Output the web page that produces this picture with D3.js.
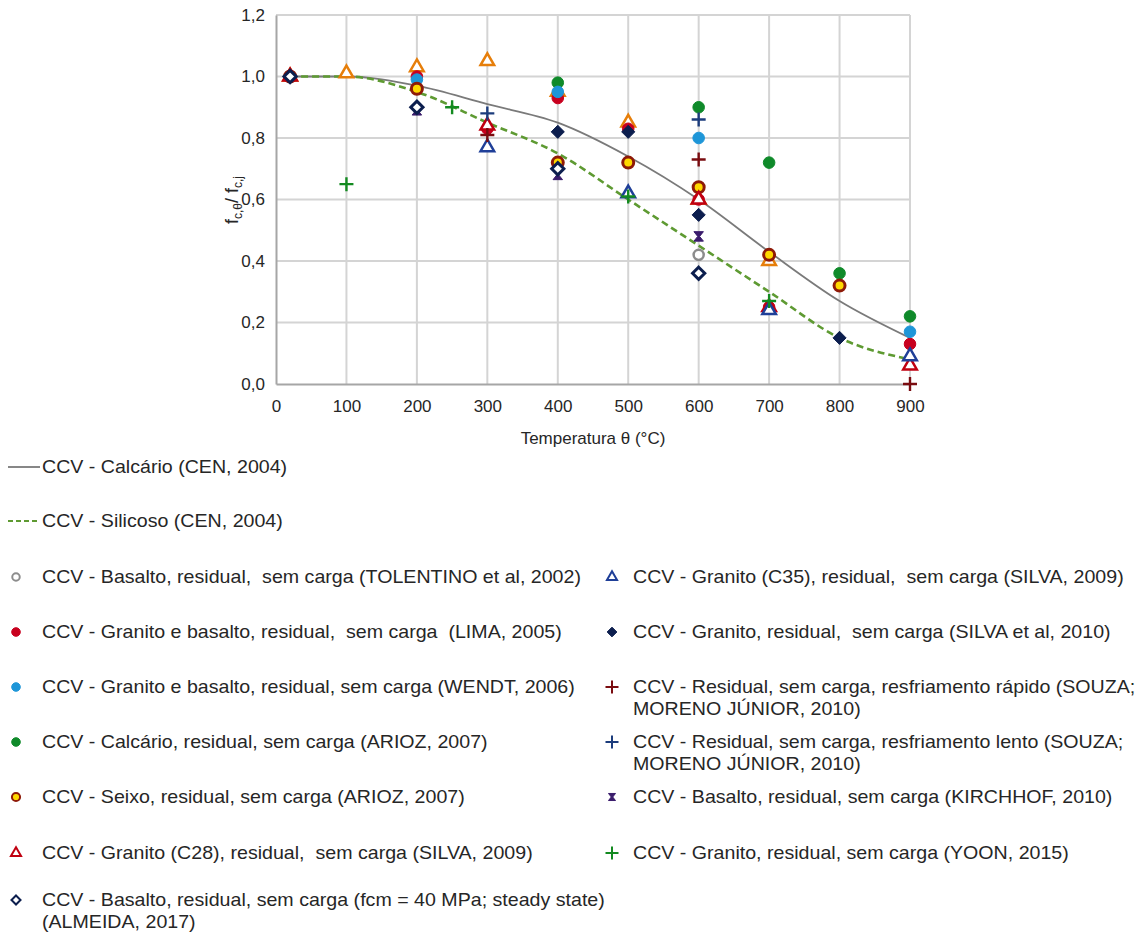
<!DOCTYPE html>
<html>
<head>
<meta charset="utf-8">
<script src="https://cdn.jsdelivr.net/npm/d3@7"></script>
<style>
  body { margin: 0; background: #fff; }
  svg text { font-family: "Liberation Sans", Arial, sans-serif; fill: #262626; white-space: pre; }
</style>
</head>
<body>
<svg id="chart" width="1144" height="936"></svg>
<script>
// EN curves
const curveTemps = [20, 100, 200, 300, 400, 500, 600, 700, 800, 900];
const calcarioVals = [1.0, 1.0, 0.97, 0.91, 0.85, 0.74, 0.60, 0.43, 0.27, 0.15];
const silicosoVals = [1.0, 1.0, 0.95, 0.85, 0.75, 0.60, 0.45, 0.30, 0.15, 0.08];

// scatter series (temperature, fc,theta/fc,j)
const tolentinoT = [20, 600];
const tolentinoV = [1.0, 0.42];
const limaT = [20, 200, 300, 400, 500, 600, 700, 900];
const limaV = [1.0, 1.0, 0.83, 0.93, 0.83, 0.60, 0.25, 0.13];
const wendtT = [20, 200, 400, 600, 900];
const wendtV = [1.0, 0.99, 0.95, 0.80, 0.17];
const ariozCalcT = [400, 600, 700, 800, 900];
const ariozCalcV = [0.98, 0.90, 0.72, 0.36, 0.22];
const orangeTriT = [20, 100, 200, 300, 400, 500, 600, 700];
const orangeTriV = [1.0, 1.01, 1.03, 1.05, 0.95, 0.85, 0.60, 0.40];
const silva28T = [20, 300, 600, 700, 900];
const silva28V = [1.0, 0.84, 0.60, 0.25, 0.06];
const silva35T = [300, 500, 700, 900];
const silva35V = [0.77, 0.62, 0.24, 0.09];
const silva2010T = [400, 500, 600, 800];
const silva2010V = [0.82, 0.82, 0.55, 0.15];
const rapidoT = [300, 600, 900];
const rapidoV = [0.81, 0.73, 0.0];
const lentoT = [300, 600];
const lentoV = [0.88, 0.86];
const kirchhofT = [200, 400, 600];
const kirchhofV = [0.89, 0.68, 0.48];
const yoonT = [100, 250, 500, 700];
const yoonV = [0.65, 0.90, 0.61, 0.27];
const seixoT = [20, 200, 400, 500, 600, 700, 800];
const seixoV = [1.0, 0.96, 0.72, 0.72, 0.64, 0.42, 0.32];
const almeidaT = [20, 200, 400, 600];
const almeidaV = [1.0, 0.90, 0.70, 0.36];

const xTicks = [0, 100, 200, 300, 400, 500, 600, 700, 800, 900];
const yTicks = [0, 0.2, 0.4, 0.6, 0.8, 1.0, 1.2];

const svg = d3.select("#chart");
const x = d3.scaleLinear().domain([0, 900]).range([276, 910]);
const y = d3.scaleLinear().domain([0, 1.2]).range([384, 15]);

// grid
svg.append("g").selectAll("line").data(yTicks.slice(1)).enter().append("line")
  .attr("x1", x(0)).attr("x2", x(900))
  .attr("y1", d => y(d)).attr("y2", d => y(d))
  .attr("stroke", "#d4d4d4").attr("stroke-width", 2);
svg.append("g").selectAll("line").data(xTicks.slice(1)).enter().append("line")
  .attr("x1", d => x(d)).attr("x2", d => x(d))
  .attr("y1", y(0)).attr("y2", y(1.2))
  .attr("stroke", "#d4d4d4").attr("stroke-width", 2);

// axes
const fmt = d => d3.format(".1f")(d).replace(".", ",");
const yAxis = svg.append("g").attr("transform", `translate(${x(0)},0)`)
  .call(d3.axisLeft(y).tickValues(yTicks).tickFormat(fmt).tickSize(0).tickPadding(11));
const xAxis = svg.append("g").attr("transform", `translate(0,${y(0)})`)
  .call(d3.axisBottom(x).tickValues(xTicks).tickSize(0).tickPadding(16));
[xAxis, yAxis].forEach(a => {
  a.select(".domain").attr("stroke", "#a6a6a6").attr("stroke-width", 2);
  a.selectAll("text").attr("font-size", 17).attr("fill", "#262626")
    .style("font-family", "'Liberation Sans', Arial, sans-serif");
});

// axis titles
svg.append("text").attr("x", 593).attr("y", 444).attr("text-anchor", "middle")
  .attr("font-size", 17).text("Temperatura θ (°C)");
const yl = svg.append("text").attr("transform", "translate(238,200) rotate(-90)")
  .attr("text-anchor", "middle").attr("font-size", 18);
yl.append("tspan").text("f");
yl.append("tspan").attr("font-size", 12).attr("dy", 4).text("c,θ");
yl.append("tspan").attr("dy", -4).text("/ f");
yl.append("tspan").attr("font-size", 12).attr("dy", 4).text("c,j");

// curves
const line = d3.line().x(d => x(d[0])).y(d => y(d[1])).curve(d3.curveMonotoneX);
svg.append("path").datum(d3.zip(curveTemps, calcarioVals))
  .attr("fill", "none").attr("stroke", "#7a7a7a").attr("stroke-width", 1.8).attr("d", line);
svg.append("path").datum(d3.zip(curveTemps, silicosoVals))
  .attr("fill", "none").attr("stroke", "#5e9a32").attr("stroke-width", 2.6)
  .attr("stroke-dasharray", "7,4").attr("d", line);

// marker shapes
const hourglass = {
  draw(ctx, size) {
    const r = Math.sqrt(size) / 2;
    ctx.moveTo(-r, -r); ctx.lineTo(r, -r); ctx.lineTo(r * 0.2, 0);
    ctx.lineTo(r, r); ctx.lineTo(-r, r); ctx.lineTo(-r * 0.2, 0); ctx.closePath();
  }
};
const markers = {
  openCircle: { type: d3.symbolCircle, size: 80, fill: "#fff", stroke: "#8c8c8c", sw: 2.5 },
  redDot: { type: d3.symbolCircle, size: 105, fill: "#c8001e", stroke: "#c8001e", sw: 1 },
  blueDot: { type: d3.symbolCircle, size: 105, fill: "#1e96d8", stroke: "#1e96d8", sw: 1 },
  greenDot: { type: d3.symbolCircle, size: 105, fill: "#0f8a2a", stroke: "#0f8a2a", sw: 1 },
  seixo: { type: d3.symbolCircle, size: 95, fill: "#ffd800", stroke: "#8e1a08", sw: 3 },
  orangeTri: { type: d3.symbolTriangle, size: 80, fill: "#fff", stroke: "#e67e0a", sw: 2.5 },
  redTri: { type: d3.symbolTriangle, size: 80, fill: "#fff", stroke: "#c00010", sw: 2.5 },
  navyTri: { type: d3.symbolTriangle, size: 80, fill: "#fff", stroke: "#1f3f98", sw: 2.5 },
  navyDiamond: { type: d3.symbolDiamond2, size: 110, fill: "#0c1e4e", stroke: "#0c1e4e", sw: 1 },
  openDiamond: { type: d3.symbolDiamond2, size: 95, fill: "#fff", stroke: "#0c1e4e", sw: 3 },
  redPlus: { type: "plus", size: 14, stroke: "#7a0c10", sw: 2.4 },
  bluePlus: { type: "plus", size: 14, stroke: "#1c3c7c", sw: 2.4 },
  greenPlus: { type: "plus", size: 14, stroke: "#138a20", sw: 2.4 },
  hourglass: { type: hourglass, size: 90, fill: "#3a1c6c", stroke: "#3a1c6c", sw: 1 }
};

function drawMarker(g, m, cx, cy) {
  if (m.type === "plus") {
    const h = m.size / 2;
    g.append("path").attr("d", `M${cx - h},${cy}H${cx + h}M${cx},${cy - h}V${cy + h}`)
      .attr("stroke", m.stroke).attr("stroke-width", m.sw).attr("fill", "none");
  } else {
    g.append("path").attr("d", d3.symbol(m.type, m.size)())
      .attr("transform", `translate(${cx},${cy})`)
      .attr("fill", m.fill).attr("stroke", m.stroke).attr("stroke-width", m.sw);
  }
}

const series = [
  { t: orangeTriT, v: orangeTriV, m: "orangeTri" },
  { t: ariozCalcT, v: ariozCalcV, m: "greenDot" },
  { t: limaT, v: limaV, m: "redDot" },
  { t: wendtT, v: wendtV, m: "blueDot" },
  { t: tolentinoT, v: tolentinoV, m: "openCircle" },
  { t: seixoT, v: seixoV, m: "seixo" },
  { t: silva28T, v: silva28V, m: "redTri" },
  { t: silva35T, v: silva35V, m: "navyTri" },
  { t: silva2010T, v: silva2010V, m: "navyDiamond" },
  { t: rapidoT, v: rapidoV, m: "redPlus" },
  { t: lentoT, v: lentoV, m: "bluePlus" },
  { t: kirchhofT, v: kirchhofV, m: "hourglass" },
  { t: yoonT, v: yoonV, m: "greenPlus" },
  { t: almeidaT, v: almeidaV, m: "openDiamond" }
];
const pts = svg.append("g");
series.forEach(s => {
  s.t.forEach((t, i) => drawMarker(pts, markers[s.m], x(t), y(s.v[i])));
});

// legend
const legLeft = [
  { m: "openCircle", y: 577, lines: ["CCV - Basalto, residual,  sem carga (TOLENTINO et al, 2002)"] },
  { m: "redDot", y: 632, lines: ["CCV - Granito e basalto, residual,  sem carga  (LIMA, 2005)"] },
  { m: "blueDot", y: 687, lines: ["CCV - Granito e basalto, residual, sem carga (WENDT, 2006)"] },
  { m: "greenDot", y: 742, lines: ["CCV - Calcário, residual, sem carga (ARIOZ, 2007)"] },
  { m: "seixo", y: 797, lines: ["CCV - Seixo, residual, sem carga (ARIOZ, 2007)"] },
  { m: "redTri", y: 853, lines: ["CCV - Granito (C28), residual,  sem carga (SILVA, 2009)"] },
  { m: "openDiamond", y: 900, lines: ["CCV - Basalto, residual, sem carga (fcm = 40 MPa; steady state)", "(ALMEIDA, 2017)"] }
];
const legRight = [
  { m: "navyTri", y: 577, lines: ["CCV - Granito (C35), residual,  sem carga (SILVA, 2009)"] },
  { m: "navyDiamond", y: 632, lines: ["CCV - Granito, residual,  sem carga (SILVA et al, 2010)"] },
  { m: "redPlus", y: 687, lines: ["CCV - Residual, sem carga, resfriamento rápido (SOUZA;", "MORENO JÚNIOR, 2010)"] },
  { m: "bluePlus", y: 742, lines: ["CCV - Residual, sem carga, resfriamento lento (SOUZA;", "MORENO JÚNIOR, 2010)"] },
  { m: "hourglass", y: 797, lines: ["CCV - Basalto, residual, sem carga (KIRCHHOF, 2010)"] },
  { m: "greenPlus", y: 853, lines: ["CCV - Granito, residual, sem carga (YOON, 2015)"] }
];
const leg = svg.append("g");
function legText(tx, ty, s) {
  leg.append("text").attr("transform", `translate(${tx},${ty}) scale(1.09,1)`)
    .attr("font-size", 18).text(s);
}
function legendItems(items, mx, tx) {
  items.forEach(it => {
    const m = Object.assign({}, markers[it.m]);
    m.size = m.type === "plus" ? 13 : m.size * 0.55;
    m.sw = Math.min(m.sw, 2);
    drawMarker(leg, m, mx, it.y);
    it.lines.forEach((l, i) => legText(tx, it.y + 6 + i * 22, l));
  });
}
legendItems(legLeft, 16, 42);
legendItems(legRight, 612, 633);

// line legend
leg.append("line").attr("x1", 8).attr("x2", 40).attr("y1", 467).attr("y2", 467)
  .attr("stroke", "#7a7a7a").attr("stroke-width", 1.8);
leg.append("line").attr("x1", 8).attr("x2", 40).attr("y1", 521).attr("y2", 521)
  .attr("stroke", "#5e9a32").attr("stroke-width", 1.8).attr("stroke-dasharray", "5,3");
legText(42, 473, "CCV - Calcário (CEN, 2004)");
legText(42, 527, "CCV - Silicoso (CEN, 2004)");
</script>
</body>
</html>
